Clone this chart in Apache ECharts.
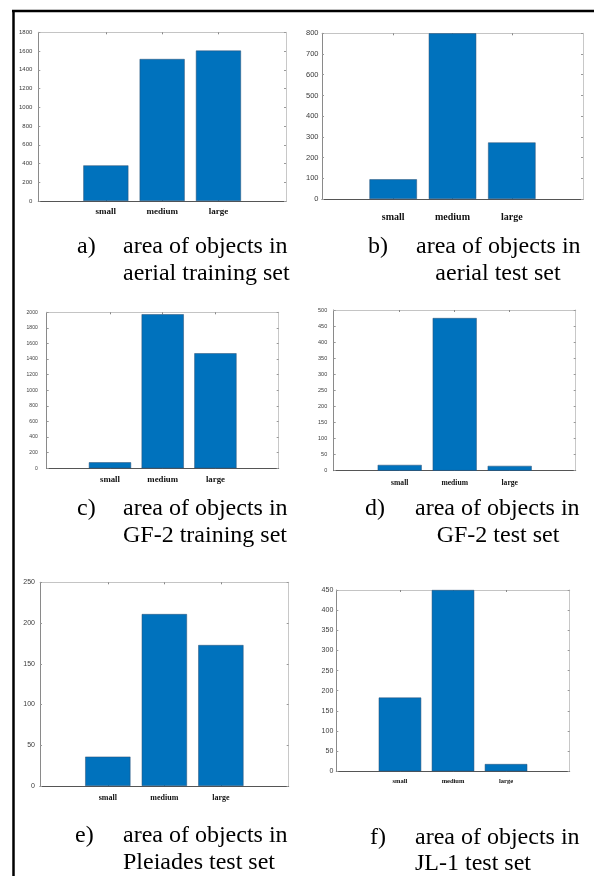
<!DOCTYPE html>
<html>
<head>
<meta charset="utf-8">
<script src="https://cdn.jsdelivr.net/npm/echarts@6/dist/echarts.min.js"></script>
<style>
html,body{margin:0;padding:0;background:#fff;}
#chart{width:594px;height:876px;}
</style>
</head>
<body>
<div id="chart"></div>
<script>
// ---- data ----
const categories = ['small', 'medium', 'large'];
const aerialTrain = [380, 1515, 1605];
const aerialTest = [95, 800, 273];
const gf2Train = [77, 1975, 1475];
const gf2Test = [18, 475, 15];
const pleiadesTest = [36, 211, 173];
const jl1Test = [183, 450, 18];
const yMaxes = [1800, 800, 2000, 500, 250, 450];
const ySteps = [200, 100, 200, 50, 50, 50];
const captionTags = ['a)', 'b)', 'c)', 'd)', 'e)', 'f)'];
const captionLine1 = 'area of objects in';
const captionLine2 = ['aerial training set', 'aerial test set', 'GF-2 training set', 'GF-2 test set', 'Pleiades test set', 'JL-1 test set'];
const seriesValues = [aerialTrain, aerialTest, gf2Train, gf2Test, pleiadesTest, jl1Test];

// ---- layout ----
const layout = [
  {left: 38.3, top: 32.3, width: 247.7, height: 168.7, tickFont: 6, catFont: 9, tickGap: 6, catGap: 6.5},
  {left: 322, top: 33.3, width: 261, height: 165.7, tickFont: 7.5, catFont: 10, tickGap: 3.5, catGap: 13},
  {left: 46.7, top: 312.3, width: 232, height: 156, tickFont: 5, catFont: 8.8, tickGap: 9, catGap: 7},
  {left: 333.7, top: 310, width: 242, height: 160.7, tickFont: 5.5, catFont: 7.6, tickGap: 6.5, catGap: 8.5},
  {left: 40, top: 582.3, width: 248.7, height: 203.7, tickFont: 7, catFont: 8, tickGap: 5, catGap: 8},
  {left: 336.3, top: 590, width: 233.4, height: 181.3, tickFont: 7, catFont: 6.5, tickGap: 3, catGap: 7}
];
const xMin = -0.2, xMax = 4.2;
const captionPos = [
  {tagX: 77, textX: 123, y1: 253, y2: 280, center2: null},
  {tagX: 368, textX: 416, y1: 253, y2: 280, center2: 498},
  {tagX: 77, textX: 123, y1: 515, y2: 542, center2: null},
  {tagX: 365, textX: 415, y1: 515, y2: 542, center2: 498},
  {tagX: 75, textX: 123, y1: 842, y2: 869, center2: null},
  {tagX: 370, textX: 415, y1: 844, y2: 870, center2: null}
];
const captionFontSize = 24;
const baselineOffset = 18;

const barColor = '#0072BD';
const grids = [], xAxes = [], yAxes = [], series = [], graphics = [];

layout.forEach((L, i) => {
  grids.push({left: L.left, top: L.top, width: L.width, height: L.height, containLabel: false});
  const catPos = categories.map((c, k) => k + 1);
  // bottom axis
  xAxes.push({
    type: 'value', gridIndex: i, min: xMin, max: xMax, position: 'bottom',
    splitLine: {show: false},
    axisLine: {show: true, onZero: false, lineStyle: {color: '#555', width: 1}},
    axisTick: {show: true, inside: true, length: 2, customValues: catPos, lineStyle: {color: '#777'}},
    axisLabel: {
      show: true, customValues: catPos, margin: L.catGap,
      fontFamily: 'Liberation Serif', fontWeight: 'bold', fontSize: L.catFont, color: '#111',
      formatter: v => categories[Math.round(v) - 1] || ''
    }
  });
  // top axis (box)
  xAxes.push({
    type: 'value', gridIndex: i, min: xMin, max: xMax, position: 'top',
    splitLine: {show: false},
    axisLine: {show: true, onZero: false, lineStyle: {color: '#c4c4c4', width: 1}},
    axisTick: {show: true, inside: true, length: 2, customValues: catPos, lineStyle: {color: '#888'}},
    axisLabel: {show: false}
  });
  yAxes.push({
    type: 'value', gridIndex: i, min: 0, max: yMaxes[i], interval: ySteps[i], position: 'left',
    splitLine: {show: false},
    axisLine: {show: true, onZero: false, lineStyle: {color: '#8a8a8a', width: 1}},
    axisTick: {show: true, inside: true, length: 2, lineStyle: {color: '#999'}},
    axisLabel: {show: true, margin: L.tickGap, fontFamily: 'Liberation Sans', fontSize: L.tickFont, color: '#3a3a3a',
      formatter: v => String(v)}
  });
  yAxes.push({
    type: 'value', gridIndex: i, min: 0, max: yMaxes[i], interval: ySteps[i], position: 'right',
    splitLine: {show: false},
    axisLine: {show: true, onZero: false, lineStyle: {color: '#c8c8c8', width: 1}},
    axisTick: {show: true, inside: true, length: 2, lineStyle: {color: '#999'}},
    axisLabel: {show: false}
  });
  const bw = 0.8 * L.width / (xMax - xMin);
  series.push({
    type: 'bar', xAxisIndex: 2 * i, yAxisIndex: 2 * i,
    barWidth: bw,
    data: seriesValues[i].map((v, k) => [k + 1, v]),
    itemStyle: {color: barColor, borderColor: '#2a4e72', borderWidth: 0.5},
    silent: true, animation: false
  });

  // captions
  const C = captionPos[i];
  const font = captionFontSize + 'px "Liberation Serif", "Times New Roman", serif';
  graphics.push({type: 'text', x: C.tagX, y: C.y1 - baselineOffset, style: {text: captionTags[i], font: font, fill: '#000', verticalAlign: 'top', align: 'left'}});
  graphics.push({type: 'text', x: C.textX, y: C.y1 - baselineOffset, style: {text: captionLine1, font: font, fill: '#000', verticalAlign: 'top', align: 'left'}});
  if (C.center2 !== null) {
    graphics.push({type: 'text', x: C.center2, y: C.y2 - baselineOffset, style: {text: captionLine2[i], font: font, fill: '#000', verticalAlign: 'top', align: 'center'}});
  } else {
    graphics.push({type: 'text', x: C.textX, y: C.y2 - baselineOffset, style: {text: captionLine2[i], font: font, fill: '#000', verticalAlign: 'top', align: 'left'}});
  }
});

// outer frame lines
graphics.push({type: 'line', shape: {x1: 12, y1: 11, x2: 594, y2: 11}, style: {stroke: '#000', lineWidth: 2.5}});
graphics.push({type: 'line', shape: {x1: 13.5, y1: 10, x2: 13.5, y2: 876}, style: {stroke: '#000', lineWidth: 2.5}});

const chart = echarts.init(document.getElementById('chart'), null, {renderer: 'canvas'});
chart.setOption({
  animation: false,
  backgroundColor: '#fff',
  grid: grids,
  xAxis: xAxes,
  yAxis: yAxes,
  series: series,
  graphic: graphics
});
</script>
</body>
</html>
